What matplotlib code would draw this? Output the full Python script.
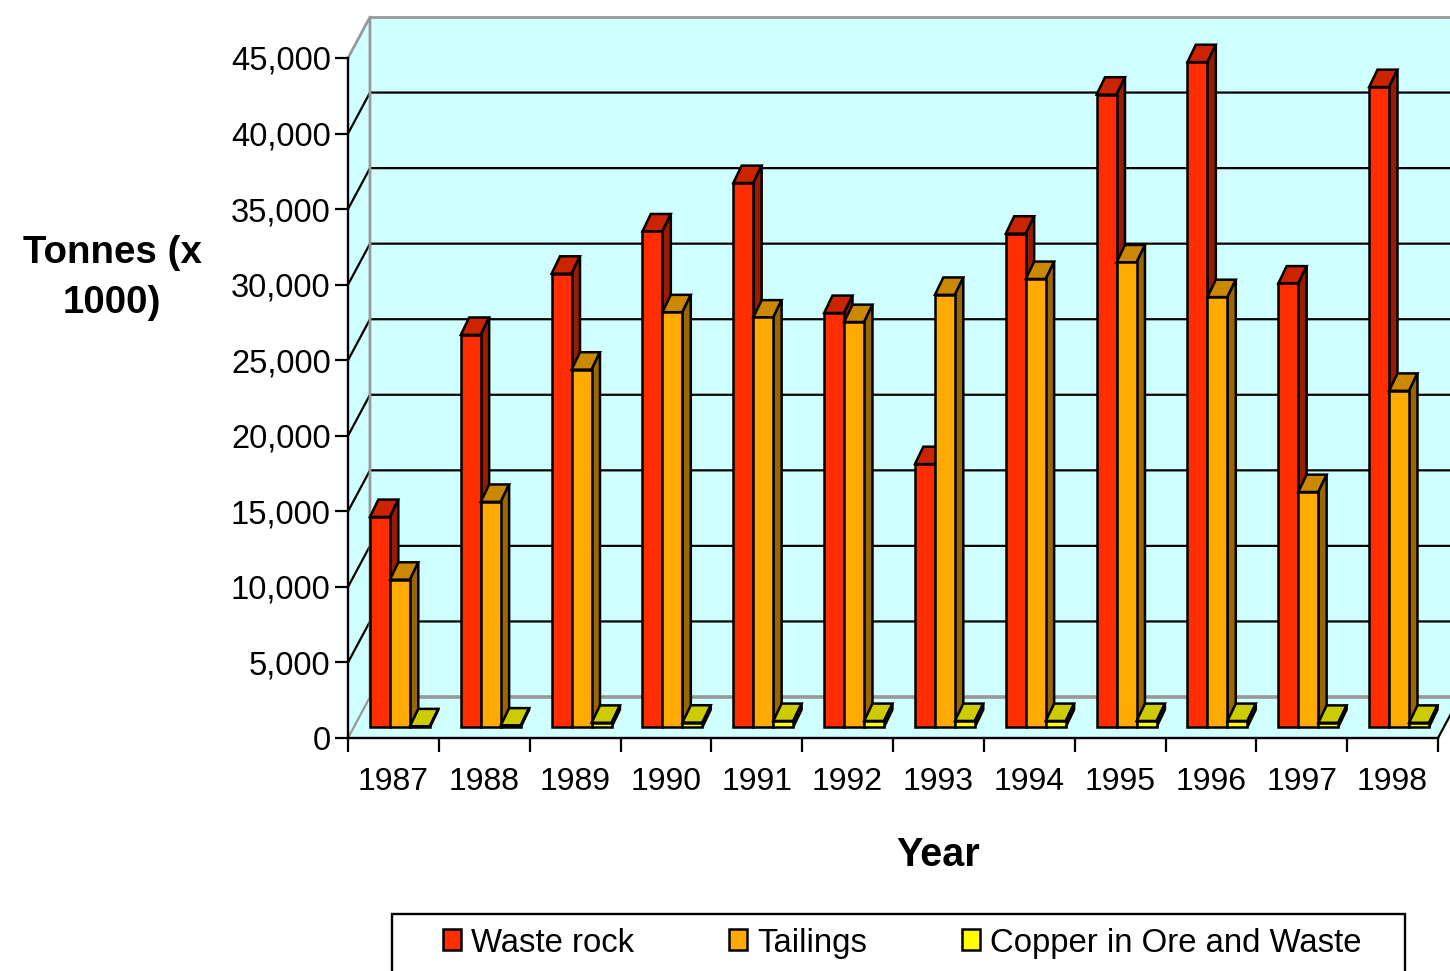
import matplotlib
matplotlib.use('Agg')
import matplotlib.pyplot as plt
from matplotlib.patches import Patch, Polygon, Rectangle
from matplotlib.ticker import FuncFormatter

plt.rcParams['font.family'] = ['Liberation Sans', 'DejaVu Sans']

years = [1987, 1988, 1989, 1990, 1991, 1992, 1993, 1994, 1995, 1996, 1997, 1998]
waste_rock = [13900, 25950, 30000, 32800, 36000, 27400, 17400, 32650, 41850, 44000, 29350, 42350]
tailings = [9750, 14900, 23650, 27450, 27100, 26800, 28600, 29650, 30750, 28450, 15550, 22250]
copper = [50, 100, 280, 290, 400, 400, 400, 400, 400, 400, 280, 280]

series_names = ['Waste rock', 'Tailings', 'Copper in Ore and Waste']
series_values = [waste_rock, tailings, copper]
# front, top, side
series_colors = [('#FF2D00', '#CC2400', '#991B00'),
                 ('#FFAA00', '#CC8800', '#996600'),
                 ('#FFFF00', '#CCCC00', '#999900')]

WALL = '#D0FFFF'
GREY = '#999999'

# depth of the box and of the bars, in data units
wall_dx, wall_dy = 0.242, 2713
bar_dx, bar_dy = 0.092, 1150
bar_x0, bar_base = 0.242, 728
bar_w = 0.22
ymax = 45000
EDGE = 1.8

fig = plt.figure(figsize=(14.5, 9.71), dpi=100)
ax = fig.add_axes([348 / 1450, 1 - 738 / 971, 1090 / 1450, 680 / 971])
ax.set_xlim(0, 12)
ax.set_ylim(0, ymax)
ax.patch.set_visible(False)


def poly(points, zorder, face='none', edge='black', lw=EDGE):
    ax.add_patch(Polygon(points, closed=True, facecolor=face, edgecolor=edge,
                         linewidth=lw, zorder=zorder, clip_on=False,
                         joinstyle='miter'))


def line(xs, ys, color='black', lw=1.6, zorder=1.5):
    ax.plot(xs, ys, color=color, lw=lw, zorder=zorder, clip_on=False,
            solid_capstyle='butt')


# box: back wall, left wall, floor
right = 12 + wall_dx
poly([(wall_dx, wall_dy), (right, wall_dy), (right, ymax + wall_dy), (wall_dx, ymax + wall_dy)],
     1, WALL, 'none', 0)
poly([(0, 0), (wall_dx, wall_dy), (wall_dx, ymax + wall_dy), (0, ymax)], 1, WALL, 'none', 0)
poly([(0, 0), (12, 0), (right, wall_dy), (wall_dx, wall_dy)], 1, WALL, 'none', 0)

for v in range(5000, ymax, 5000):
    line([0, wall_dx, right], [v, v + wall_dy, v + wall_dy])

line([0, wall_dx, wall_dx], [ymax, ymax + wall_dy, wall_dy], GREY, 2.0, 1.6)
line([wall_dx, right], [ymax + wall_dy, ymax + wall_dy], GREY, 2.0, 1.6)
line([0, wall_dx], [0, wall_dy], GREY, 1.6, 1.6)
line([wall_dx, right], [wall_dy, wall_dy], GREY, 2.6, 1.6)
line([12, right], [0, wall_dy], 'black', 1.6, 1.6)

# bars, left to right so each one covers the side of the previous
for i, year in enumerate(years):
    for s, values in enumerate(series_values):
        front, top, side = series_colors[s]
        x = i + bar_x0 + s * bar_w
        h = values[i]
        z = 3 + i + s * 0.1
        y1 = bar_base + h
        poly([(x, y1), (x + bar_w, y1), (x + bar_w + bar_dx, y1 + bar_dy), (x + bar_dx, y1 + bar_dy)],
             z, top)
        poly([(x + bar_w, bar_base), (x + bar_w + bar_dx, bar_base + bar_dy),
              (x + bar_w + bar_dx, y1 + bar_dy), (x + bar_w, y1)], z, side)
        ax.bar(x, h, bar_w, bottom=bar_base, align='edge', color=front, edgecolor='black',
               linewidth=EDGE, zorder=z + 0.05, clip_on=False)

# axes
for name in ['top', 'right']:
    ax.spines[name].set_visible(False)
for name in ['left', 'bottom']:
    ax.spines[name].set_linewidth(1.7)
    ax.spines[name].set_zorder(2)
ax.set_yticks(range(0, ymax + 1, 5000))
ax.yaxis.set_major_formatter(FuncFormatter(lambda v, pos: f'{int(v):,}'))
ax.set_xticks(range(13))
ax.set_xticklabels([])
ax.set_xticks([i + 0.5 for i in range(12)], minor=True)
ax.set_xticklabels([str(y) for y in years], minor=True)
ax.tick_params(axis='x', which='major', length=10, width=1.6, direction='out')
ax.tick_params(axis='x', which='minor', length=0, pad=21, labelsize=23)
ax.tick_params(axis='y', length=9.5, width=1.6, pad=3, labelsize=23.5)

fig.text(112 / 1450, 1 - 278 / 971, 'Tonnes (x\n1000)', ha='center', va='center',
         fontsize=27.7, fontweight='bold', linespacing=1.5)
fig.text(938 / 1450, 1 - 855 / 971, 'Year', ha='center', va='center',
         fontsize=28.5, fontweight='bold')

# legend frame runs off the bottom of the figure
fig.add_artist(Rectangle((392 / 1450, -0.02), 1013 / 1450, 0.02 + 57 / 971, transform=fig.transFigure,
                         facecolor='white', edgecolor='black', linewidth=1.7))
handles = [Patch(facecolor=c[0], edgecolor='black', linewidth=1.8) for c in series_colors]
fig.legend(handles, series_names, ncols=3, loc='center left',
           bbox_to_anchor=(443 / 1450, 1 - 943 / 971), frameon=False, fontsize=23.7,
           borderpad=0, borderaxespad=0, handlelength=0.55, handleheight=0.6,
           handletextpad=0.3, columnspacing=2.88)

fig.savefig('out.png', dpi=100)
